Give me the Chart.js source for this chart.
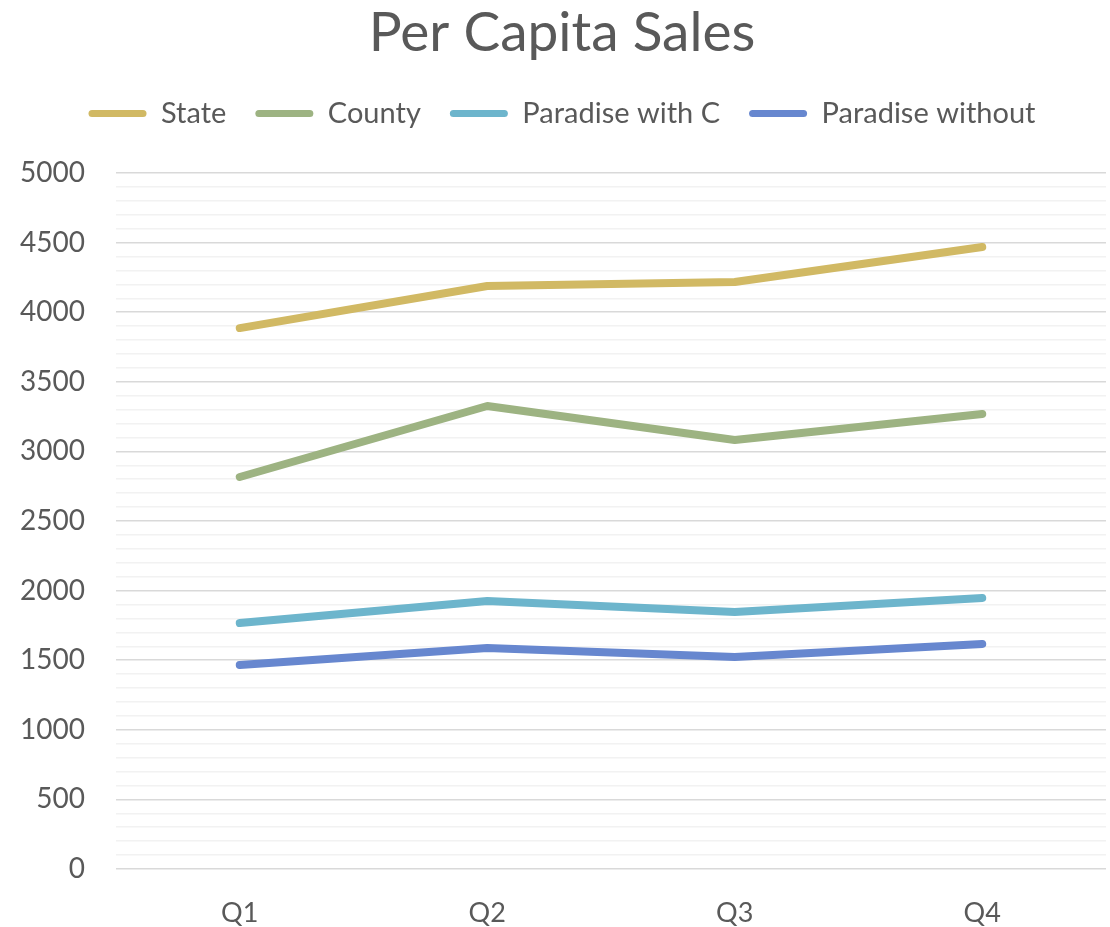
<!DOCTYPE html>
<html>
<head>
<meta charset="utf-8">
<title>Per Capita Sales</title>
<script src="https://cdn.jsdelivr.net/npm/chart.js@4.4.1/dist/chart.umd.min.js"></script>
<style>
  html, body { margin: 0; padding: 0; background: #fff; }
  #wrap { width: 1110px; height: 927px; }
</style>
</head>
<body>
<div id="wrap"><canvas id="myChart"></canvas></div>
<script>
// quarters and per capita sales
var quarters = ["Q1", "Q2", "Q3", "Q4"];
var state = [3886, 4188, 4217, 4468];
var county = [2816, 3326, 3082, 3269];
var paradiseWithC = [1767, 1925, 1846, 1947];
var paradiseWithout = [1466, 1588, 1523, 1616];

var textColor = "#595959";
var fontFamily = "Lato, 'Open Sans', sans-serif";

function series(label, values, color) {
	return {
		label: label,
		data: values,
		borderColor: color,
		backgroundColor: color,
		borderWidth: 8,
		borderCapStyle: 'round',
		borderJoinStyle: 'round',
		pointRadius: 0,
		pointHoverRadius: 0,
		tension: 0
	};
}

// extra room under the legend
var legendSpace = {
	id: 'legendSpace',
	beforeInit: function (chart) {
		var fit = chart.legend.fit;
		chart.legend.fit = function () {
			fit.bind(chart.legend)();
			this.height += 35;
		};
	}
};

var ctx = document.getElementById("myChart");
var myChart = new Chart(ctx, {
	type: 'line',
	data: {
		labels: quarters,
		datasets: [
			series("State", state, "#d1b964"),
			series("County", county, "#9db382"),
			series("Paradise with C", paradiseWithC, "#6db5cc"),
			series("Paradise without", paradiseWithout, "#6787cf")
		]
	},
	plugins: [legendSpace],
	options: {
		responsive: true,
		maintainAspectRatio: false,
		animation: false,
		layout: { padding: { left: 18, right: 4, top: 0, bottom: 0 } },
		plugins: {
			title: {
				display: true,
				text: "Per Capita Sales",
				color: textColor,
				font: { family: fontFamily, size: 55, weight: 'normal' },
				padding: { top: 0, bottom: 4 }
			},
			legend: {
				position: 'top',
				labels: {
					color: textColor,
					font: { family: fontFamily, size: 29 },
					boxWidth: 58,
					boxHeight: 7,
					useBorderRadius: true,
					borderRadius: 3.5,
					padding: 29,
					generateLabels: function (chart) {
						var items = Chart.defaults.plugins.legend.labels.generateLabels(chart);
						items.forEach(function (it) { it.lineWidth = 0; });
						return items;
					}
				}
			},
			tooltip: { enabled: false }
		},
		scales: {
			x: {
				offset: true,
				grid: { display: false },
				border: { display: false },
				afterFit: function (scale) { scale.height = 58; },
				ticks: {
					color: textColor,
					font: { family: fontFamily, size: 27 },
					padding: 20
				}
			},
			y: {
				min: 0,
				max: 5000,
				border: { display: false },
				afterFit: function (scale) { scale.width = 98; },
				ticks: {
					stepSize: 100,
					autoSkip: false,
					color: textColor,
					font: { family: fontFamily, size: 28 },
					padding: 31,
					callback: function (value) {
						return value % 500 === 0 ? value : '';
					}
				},
				grid: {
					drawTicks: false,
					lineWidth: 1.5,
					color: function (c) {
						return c.tick && c.tick.value % 500 === 0 ? "#d9d9d9" : "#f2f2f2";
					}
				}
			}
		}
	}
});
</script>
</body>
</html>
